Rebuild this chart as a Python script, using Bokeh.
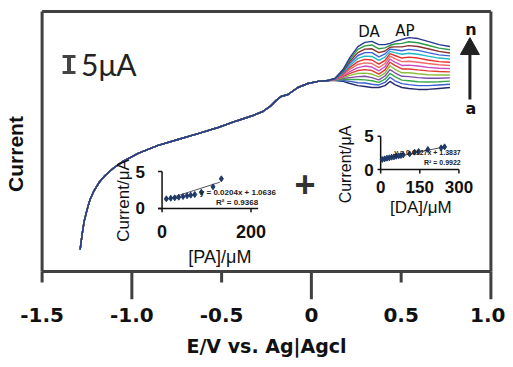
import numpy as np
from bokeh.plotting import figure
from bokeh.models import Range1d, FixedTicker, CustomJSTickFormatter
from bokeh.core.properties import value
from bokeh.embed import file_html
from bokeh.resources import INLINE

# ---------------- data ----------------
# shared part of all 14 voltammograms (E in V, current in uA)
left_E = [-1.288, -1.277, -1.266, -1.249, -1.233, -1.210, -1.183, -1.149, -1.105, -1.049,
          -0.965, -0.854, -0.743, -0.631, -0.520, -0.409, -0.325, -0.270, -0.230, -0.197,
          -0.169, -0.130, -0.075, -0.019, 0.037, 0.092]
left_I = [-43.1, -38.4, -34.4, -30.6, -27.5, -24.7, -22.2, -20.0, -17.8, -15.6,
          -13.1, -10.6, -8.75, -6.9, -5.0, -2.8, -1.25, 0.0, 1.6, 3.4,
          4.7, 5.3, 7.5, 8.75, 9.4, 9.7]
# potentials of the peak region
right_E = [0.131, 0.176, 0.215, 0.259, 0.298, 0.337, 0.376, 0.410, 0.438, 0.465,
           0.504, 0.543, 0.594, 0.649, 0.711, 0.772]
curve_a = [9.7, 9.4, 8.75, 8.1, 7.8, 7.5, 7.5, 8.1, 9.4, 8.4, 7.5, 7.2, 6.9, 6.9, 7.2, 7.5]
curve_b = [9.8, 9.7, 9.4, 9.0, 8.9, 8.5, 8.3, 9.1, 10.7, 9.6, 8.7, 8.4, 8.1, 8.1, 8.3, 8.5]
curve_c = [9.8, 10.0, 10.0, 10.0, 9.9, 9.6, 9.1, 10.1, 11.9, 10.9, 9.8, 9.6, 9.3, 9.2, 9.3, 9.5]
curve_d = [9.9, 10.3, 10.6, 10.9, 11.0, 10.6, 9.9, 11.1, 13.1, 12.1, 11.0, 10.9, 10.6, 10.4, 10.4, 10.5]
curve_e = [9.9, 10.6, 11.3, 11.9, 12.0, 11.7, 10.8, 12.0, 14.3, 13.2, 12.1, 12.1, 11.8, 11.5, 11.4, 11.4]
curve_f = [10.0, 10.9, 11.9, 12.8, 13.1, 12.8, 11.7, 13.0, 15.4, 14.4, 13.3, 13.3, 13.0, 12.7, 12.5, 12.4]
curve_g = [10.0, 11.1, 12.5, 13.7, 14.2, 13.9, 12.7, 14.0, 16.4, 15.4, 14.4, 14.5, 14.2, 13.8, 13.5, 13.4]
curve_h = [10.1, 11.4, 13.2, 14.7, 15.2, 15.0, 13.7, 15.0, 17.3, 16.5, 15.6, 15.7, 15.4, 15.0, 14.6, 14.4]
curve_i = [10.1, 11.7, 13.8, 15.6, 16.3, 16.1, 14.8, 16.0, 18.1, 17.5, 16.7, 17.0, 16.7, 16.1, 15.6, 15.4]
curve_j = [10.2, 12.0, 14.4, 16.6, 17.3, 17.2, 16.0, 17.0, 18.8, 18.4, 17.9, 18.2, 17.9, 17.3, 16.7, 16.4]
curve_k = [10.2, 12.3, 15.1, 17.5, 18.4, 18.4, 17.1, 18.0, 19.5, 19.3, 19.0, 19.4, 19.1, 18.4, 17.7, 17.4]
curve_l = [10.3, 12.6, 15.7, 18.4, 19.5, 19.6, 18.4, 18.9, 20.1, 20.2, 20.2, 20.6, 20.3, 19.6, 18.8, 18.3]
curve_m = [10.3, 12.9, 16.3, 19.4, 20.5, 20.8, 19.6, 19.9, 20.7, 21.1, 21.3, 21.8, 21.5, 20.7, 19.8, 19.3]
curve_n = [10.3, 13.1, 16.9, 20.3, 21.6, 21.9, 20.9, 20.9, 21.3, 21.9, 22.5, 23.1, 22.8, 21.9, 20.9, 20.3]
curves = [curve_a, curve_b, curve_c, curve_d, curve_e, curve_f, curve_g,
          curve_h, curve_i, curve_j, curve_k, curve_l, curve_m, curve_n]
curve_colors = ["#252a6e", "#3b5fd0", "#3aa84a", "#7b4fa8", "#8cbf3f", "#e23a2e", "#c64fc0",
                "#f06a6a", "#e8302a", "#22b8c8", "#3c64d8", "#8b3030", "#2f9a48", "#2b3a93"]

# axis box: potential window and current window
box_E = [-1.5, 1.0]
box_I = [-50.0, 31.25]
x_ticks = [-1.5, -1.0, -0.5, 0.0, 0.5, 1.0]
x_long_ticks = [-1.0, 0.0, 1.0]
x_short_ticks = [-1.5, -0.5, 0.5]

# PA calibration inset
pa_conc = [9.7, 19.5, 28.5, 37.5, 47.2, 56.2, 64.5, 73.5, 88.3, 114.6, 133.3]
pa_curr = [1.31, 1.39, 1.44, 1.53, 1.62, 1.71, 1.80, 1.89, 2.20, 2.93, 4.01]
pa_fit_x = [5, 130]
pa_fit_y = [1.15, 3.55]
pa_xticks = [0, 200]
pa_yticks = [0, 5]
# DA calibration inset
da_conc = [6.1, 15.3, 24.1, 33.0, 42.1, 51.0, 59.8, 69.0, 77.8, 86.6, 111.0, 130.0, 145.6, 181.0, 232.0, 245.0]
da_curr = [1.50, 1.60, 1.70, 1.75, 1.85, 1.90, 2.00, 2.05, 2.10, 2.20, 2.35, 2.60, 2.70, 3.00, 3.25, 3.40]
da_fit_x = [0, 250]
da_fit_y = [1.40, 3.45]
da_xticks = [0, 150, 300]
da_yticks = [0, 5]

# scale bar (5 uA) and arrow a -> n
bar_E = -1.35
bar_I = [12.2, 17.2]
arrow_E = 0.883
arrow_I = [3.75, 17.8, 23.1]   # tail, head base, tip

# ---------------- figure ----------------
p = figure(width=505, height=365, output_backend="svg", toolbar_location=None,
           x_range=Range1d(-1.52, 1.02), y_range=Range1d(-58.75, 32.19),
           min_border_left=38, min_border_right=11, min_border_top=8, min_border_bottom=66)
p.grid.visible = False
p.outline_line_color = None
AX = "#404040"
INK = "#111111"

xa = p.xaxis[0]
xa.ticker = FixedTicker(ticks=x_ticks)
xa.formatter = CustomJSTickFormatter(code="return tick == 0 ? '0' : tick.toFixed(1);")
xa.axis_line_color = None
xa.major_tick_line_color = None
xa.minor_tick_line_color = None
xa.major_tick_out = 0
xa.major_tick_in = 0
xa.major_label_text_font = "DejaVu Sans"
xa.major_label_text_font_style = "bold"
xa.major_label_text_font_size = "20px"
xa.major_label_text_color = INK
xa.major_label_standoff = 8
xa.axis_label = "E/V vs. Ag|Agcl"
xa.axis_label_text_font = "DejaVu Sans"
xa.axis_label_text_font_style = "bold"
xa.axis_label_text_font_size = "19px"
xa.axis_label_text_color = INK
xa.axis_label_standoff = 10

ya = p.yaxis[0]
ya.ticker = FixedTicker(ticks=[])
ya.major_tick_line_color = None
ya.minor_tick_line_color = None
ya.axis_line_color = None
ya.axis_label = "Current"
ya.axis_label_text_font = "Liberation Sans"
ya.axis_label_text_font_style = "bold"
ya.axis_label_text_font_size = "21px"
ya.axis_label_text_color = INK
ya.axis_label_standoff = 12

# axis box
E0, E1 = box_E
I0, I1 = box_I
p.segment(x0=[E0, E0, E0, E1], y0=[I0, I1, I0, I0], x1=[E1, E1, E0, E1], y1=[I0, I1, I1, I1],
          line_color=AX, line_width=3)

# tick marks of the potential axis (short and long), as vertical dash markers
p.scatter(x=list(x_short_ticks), y=[I0 - 1.72] * 3, marker="dash", size=11, angle=np.pi / 2,
          line_color=AX, line_width=3)
p.scatter(x=list(x_long_ticks), y=[I0 - 4.4] * 3, marker="dash", size=28, angle=np.pi / 2,
          line_color=AX, line_width=3)

# voltammograms
for c, col in zip(curves, curve_colors):
    p.line(left_E + right_E, left_I + c, line_color=col, line_width=1.4)

# peak labels and arrow a -> n
p.text(x=[0.3207, 0.521], y=[25.0, 25.3], text=["DA", "AP"], text_align="center", text_baseline="middle",
       text_font=value("DejaVu Sans"), text_font_size="15px", text_color=INK)
p.text(x=[0.8886, 0.8886], y=[25.6, 0.94], text=["n", "a"], text_align="center", text_baseline="middle",
       text_font=value("DejaVu Sans"), text_font_style="bold", text_font_size="16px", text_color=INK)
p.segment(x0=[arrow_E], y0=[arrow_I[0]], x1=[arrow_E], y1=[arrow_I[1]], line_color="#222222", line_width=3)
p.patch([arrow_E - 0.053, arrow_E + 0.053, arrow_E], [arrow_I[1], arrow_I[1], arrow_I[2]],
        fill_color="#222222", line_color="#222222")

# scale bar
p.segment(x0=[bar_E], y0=[bar_I[0]], x1=[bar_E], y1=[bar_I[1]], line_color="#444444", line_width=4)
p.segment(x0=[bar_E - 0.036, bar_E - 0.036], y0=list(bar_I), x1=[bar_E + 0.036, bar_E + 0.036], y1=list(bar_I),
          line_color="#444444", line_width=3)
p.text(x=[-1.283], y=[14.7], text=["5μA"], text_align="left", text_baseline="middle",
       text_font=value("Lato"), text_font_size="30px", text_color="#222222")

# big plus
p.text(x=[-0.0356], y=[-22.5], text=["+"], text_align="center", text_baseline="middle",
       text_font=value("Liberation Sans"), text_font_style="bold", text_font_size="36px", text_color="#333333")

F = value("Liberation Sans")

# ---------------- PA inset ----------------
pa = p.subplot(x_source=Range1d(0, 200), y_source=Range1d(0, 5),
               x_target=Range1d(-0.8318, -0.3363), y_target=Range1d(-30.31, -18.75))
pa.segment(x0=[0, -9], y0=[0, 0], x1=[0, 216], y1=[5, 0], line_color=INK, line_width=1.5)
pa.segment(x0=[-9] * len(pa_yticks), y0=list(pa_yticks), x1=[0] * len(pa_yticks), y1=list(pa_yticks),
           line_color=INK, line_width=1.5)
pa.segment(x0=list(pa_xticks), y0=[0] * len(pa_xticks), x1=list(pa_xticks), y1=[-0.5] * len(pa_xticks),
           line_color=INK, line_width=1.5)
pa.line(pa_fit_x, pa_fit_y, line_color="#555555", line_width=1)
pa.scatter(pa_conc, pa_curr, marker="diamond", size=6, fill_color="#1f3a68", line_color="#1f3a68")
pa.text(x=[-49] * len(pa_yticks), y=list(pa_yticks), text=[str(t) for t in pa_yticks], text_align="center",
        text_baseline="middle", text_font=F, text_font_style="bold", text_font_size="17px", text_color=INK)
pa.text(x=list(pa_xticks), y=[-3.1] * len(pa_xticks), text=[str(t) for t in pa_xticks], text_align="center",
        text_baseline="middle", text_font=F, text_font_style="bold", text_font_size="18px", text_color=INK)
pa.text(x=[130], y=[-6.5], text=["[PA]/μM"], text_align="center", text_baseline="middle",
        text_font=F, text_font_size="18px", text_color=INK)
pa.text(x=[-87.6], y=[1.08], text=["Current/μA"], angle=np.pi / 2, text_align="center",
        text_baseline="middle", text_font=F, text_font_size="17px", text_color=INK)
pa.text(x=[256, 216], y=[2.16, 0.81], text=["y = 0.0204x + 1.0636", "R² = 0.9368"], text_align="right",
        text_baseline="middle", text_font=F, text_font_style="bold", text_font_size="8px", text_color="#222222")

# ---------------- DA inset ----------------
da = p.subplot(x_source=Range1d(0, 300), y_source=Range1d(0, 5),
               x_target=Range1d(0.3859, 0.8218), y_target=Range1d(-18.125, -7.72))
da.segment(x0=[0, 0], y0=[0, 0], x1=[0, 300], y1=[5, 0], line_color=INK, line_width=1.5)
da.segment(x0=[-12] * len(da_yticks), y0=list(da_yticks), x1=[0] * len(da_yticks), y1=list(da_yticks),
           line_color=INK, line_width=1.5)
da.segment(x0=list(da_xticks), y0=[0] * len(da_xticks), x1=list(da_xticks), y1=[-0.6] * len(da_xticks),
           line_color=INK, line_width=1.5)
da.line(da_fit_x, da_fit_y, line_color="#555555", line_width=1)
da.scatter(da_conc, da_curr, marker="diamond", size=6, fill_color="#1f3a68", line_color="#1f3a68")
da.text(x=[-45] * len(da_yticks), y=list(da_yticks), text=[str(t) for t in da_yticks], text_align="center",
        text_baseline="middle", text_font=F, text_font_style="bold", text_font_size="17px", text_color=INK)
da.text(x=list(da_xticks), y=[-2.7] * len(da_xticks), text=[str(t) for t in da_xticks], text_align="center",
        text_baseline="middle", text_font=F, text_font_style="bold", text_font_size="17px", text_color=INK)
da.text(x=[154], y=[-5.7], text=["[DA]/μM"], text_align="center", text_baseline="middle",
        text_font=F, text_font_size="17px", text_color=INK)
da.text(x=[-133], y=[0.75], text=["Current/μA"], angle=np.pi / 2, text_align="center",
        text_baseline="middle", text_font=F, text_font_size="16px", text_color=INK)
da.text(x=[307, 307], y=[2.55, 1.05], text=["y = 0.0127x + 1.3837", "R² = 0.9922"], text_align="right",
        text_baseline="middle", text_font=F, text_font_style="bold", text_font_size="7px", text_color="#222222")

open("out.html", "w").write(file_html(p, INLINE))
